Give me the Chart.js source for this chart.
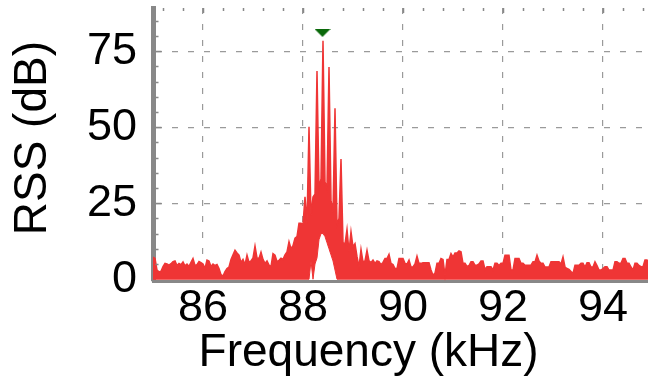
<!DOCTYPE html>
<html>
<head>
<meta charset="utf-8">
<script src="https://cdn.jsdelivr.net/npm/chart.js@4/dist/chart.umd.min.js"></script>
<style>
  html, body { margin: 0; padding: 0; background: #fff; }
  #chart-rss { display: block; }
</style>
</head>
<body>
<canvas id="chart-rss" width="648" height="385"></canvas>
<script>
//
// Data
//

var freqStart = 85.0;  // kHz, first bin
var freqStep = 0.04;   // kHz between bins

// top edge of the RSS trace per bin (dB), one row per kHz
var rssHigh = [
  7.3, 6.8, 3.0, 2.4, 2.6, 4.1, 5.2, 5.0, 4.6, 5.1, 5.8, 6.0, 4.5, 5.2, 4.8, 5.7, 4.4, 5.0, 4.2, 5.5, 6.8, 4.5, 4.8, 5.8, 5.4,
  5.0, 3.5, 6.3, 6.0, 4.2, 5.0, 4.5, 4.8, 3.5, 1.5, 1.0, 2.5, 3.5, 4.0, 6.5, 8.0, 9.5, 8.6, 7.9, 5.5, 6.5, 4.8, 7.9, 5.5, 6.0,
  7.0, 10.9, 7.0, 6.8, 8.9, 6.5, 5.2, 6.0, 4.6, 4.1, 8.4, 7.9, 5.8, 6.2, 6.9, 6.5, 8.0, 9.0, 12.3, 10.0, 11.0, 13.5, 14.0, 18.4, 18.4,
  18.0, 27.1, 18.4, 50.1, 21.0, 27.0, 28.0, 68.5, 30.0, 33.0, 78.4, 32.0, 30.0, 69.8, 26.0, 22.0, 56.2, 18.0, 20.0, 39.5, 12.0, 11.6, 16.4, 9.0, 15.6,
  10.6, 11.7, 7.5, 4.0, 9.8, 5.7, 6.0, 9.5, 6.0, 5.5, 6.3, 5.2, 6.0, 5.8, 4.8, 5.5, 6.8, 6.8, 8.2, 5.2, 4.8, 3.5, 3.5, 6.8, 6.8,
  6.8, 5.2, 5.0, 6.3, 4.0, 4.0, 5.0, 7.6, 5.2, 5.2, 5.4, 5.4, 5.4, 5.4, 3.0, 1.3, 2.0, 5.2, 5.2, 6.8, 6.5, 1.3, 6.5, 6.5, 8.4,
  7.3, 8.6, 8.6, 9.3, 9.0, 5.2, 5.2, 4.2, 4.5, 5.7, 5.7, 4.6, 4.6, 5.0, 6.0, 6.0, 3.2, 4.1, 4.1, 4.1, 3.0, 5.2, 5.2, 4.5, 5.2,
  5.2, 7.9, 7.9, 7.9, 3.0, 3.0, 6.8, 6.8, 6.8, 5.2, 5.2, 4.6, 4.6, 4.6, 4.6, 5.7, 5.7, 7.9, 6.0, 5.2, 5.2, 4.0, 4.0, 4.0, 5.7,
  5.7, 5.7, 5.7, 5.7, 5.0, 7.3, 4.0, 3.5, 3.2, 2.5, 1.9, 4.6, 4.6, 4.6, 5.2, 5.2, 4.0, 5.4, 5.4, 4.0, 4.0, 5.7, 4.5, 3.0, 3.0,
  3.5, 4.1, 4.1, 3.0, 3.0, 3.0, 5.7, 5.7, 5.2, 5.2, 6.8, 6.8, 5.2, 5.2, 4.0, 3.0, 5.2, 5.2, 4.5, 4.1, 4.1, 6.3, 6.3, 5.0, 4.5
];

// bottom edge of the trace per bin (dB)
var rssLow = [
  0, 0, 0, 0, 0, 0, 0, 0, 0, 0, 0, 0, 0, 0, 0, 0, 0, 0, 0, 0, 0, 0, 0, 0, 0,
  0, 0, 0, 0, 0, 0, 0, 0, 0, 0, 0, 0, 0, 0, 0, 0, 0, 0, 0, 0, 0, 0, 0, 0, 0,
  0, 0, 0, 0, 0, 0, 0, 0, 0, 0, 0, 0, 0, 0, 0, 0, 0, 0, 0, 0, 0, 0, 0, 0, 0,
  0, 0, 0, 0, 6, 0, 5, 7, 13, 15, 15, 14, 12, 10, 8, 6, 3, 0, 0, 0, 0, 0, 0, 0, 0,
  0, 0, 0, 0, 0, 0, 0, 0, 0, 0, 0, 0, 0, 0, 0, 0, 0, 0, 0, 0, 0, 0, 0, 0, 0,
  0, 0, 0, 0, 0, 0, 0, 0, 0, 0, 0, 0, 0, 0, 0, 0, 0, 0, 0, 0, 0, 0, 0, 0, 0,
  0, 0, 0, 0, 0, 0, 0, 0, 0, 0, 0, 0, 0, 0, 0, 0, 0, 0, 0, 0, 0, 0, 0, 0, 0,
  0, 0, 0, 0, 0, 0, 0, 0, 0, 0, 0, 0, 0, 0, 0, 0, 0, 0, 0, 0, 0, 0, 0, 0, 0,
  0, 0, 0, 0, 0, 0, 0, 0, 0, 0, 0, 0, 0, 0, 0, 0, 0, 0, 0, 0, 0, 0, 0, 0, 0,
  0, 0, 0, 0, 0, 0, 0, 0, 0, 0, 0, 0, 0, 0, 0, 0, 0, 0, 0, 0, 0, 0, 0, 0, 0
];

// detected peak marker
var peakFreq = [88.39];
var peakRss = [81];

var xTicks = [86, 88, 90, 92, 94];
var yTicks = [0, 25, 50, 75];

//
// Helpers
//

function toPoints(values) {
  return values.map(function (v, i) {
    return { x: freqStart + i * freqStep, y: v };
  });
}

// flat down-pointing triangle for the peak
function peakMarker() {
  var c = document.createElement('canvas');
  c.width = 16;
  c.height = 8;
  var g = c.getContext('2d');
  g.fillStyle = '#0a690a';
  g.beginPath();
  g.moveTo(0, 0);
  g.lineTo(16, 0);
  g.lineTo(8, 8);
  g.closePath();
  g.fill();
  return c;
}

// small inward ticks on the top and left edges
var edgeTicks = {
  id: 'edgeTicks',
  afterDatasetsDraw: function (chart) {
    var ctx = chart.ctx;
    var area = chart.chartArea;
    var sx = chart.scales.x;
    var sy = chart.scales.y;
    ctx.save();
    ctx.strokeStyle = '#888';
    ctx.lineWidth = 1.5;
    ctx.beginPath();
    for (var k = 0; k < 25; k++) {
      var f = Math.round((85.2 + k * 0.4) * 10) / 10;
      var px = Math.round(sx.getPixelForValue(f)) + 0.5;
      var len = (Math.abs(f / 2 - Math.round(f / 2)) < 1e-6) ? 5 : 3;
      ctx.moveTo(px, area.top);
      ctx.lineTo(px, area.top + len);
    }
    for (var d = 5; d < 89; d += 5) {
      var py = Math.round(sy.getPixelForValue(d)) + 0.5;
      var l2 = (d % 25 === 0) ? 6 : 3;
      ctx.moveTo(area.left + 2.5, py);
      ctx.lineTo(area.left + 2.5 + l2, py);
    }
    ctx.stroke();
    ctx.restore();
  }
};

//
// Chart
//

var font = { family: '"Liberation Sans", Arial, sans-serif', size: 45 };
var titleFont = { family: '"Liberation Sans", Arial, sans-serif', size: 46 };

var rssChart = new Chart(document.getElementById('chart-rss'), {
  type: 'line',
  data: {
    datasets: [
      {
        label: 'peak',
        data: peakFreq.map(function (f, i) { return { x: f, y: peakRss[i] }; }),
        showLine: false,
        pointStyle: peakMarker(),
        pointRadius: 8
      },
      {
        label: 'RSS',
        data: toPoints(rssHigh),
        borderColor: '#ef3535',
        backgroundColor: '#ef3535',
        borderWidth: 1.5,
        pointRadius: 0,
        tension: 0,
        fill: '+1'
      },
      {
        label: 'RSS low',
        data: toPoints(rssLow),
        borderColor: '#ef3535',
        borderWidth: 1,
        pointRadius: 0,
        tension: 0,
        fill: false
      }
    ]
  },
  options: {
    responsive: false,
    animation: false,
    layout: { autoPadding: false, padding: { top: 8, left: 0, right: 0, bottom: 0 } },
    plugins: {
      legend: { display: false },
      tooltip: { enabled: false }
    },
    scales: {
      x: {
        type: 'linear',
        min: 85.0,
        max: 94.9,
        afterBuildTicks: function (scale) {
          scale.ticks = xTicks.map(function (v) { return { value: v }; });
        },
        afterFit: function (scale) {
          scale.height = 104;
          scale.paddingLeft = 0;
          scale.paddingRight = 0;
        },
        grid: { color: '#9a9a9a', lineWidth: 1.2, drawTicks: false },
        border: { color: '#888', width: 3, dash: [6, 10] },
        ticks: { color: '#000', font: font, padding: 1, maxRotation: 0 },
        title: {
          display: true,
          // trailing spaces keep the title left of the plot centre, as in the figure
          text: 'Frequency (kHz)     ',
          color: '#000',
          font: titleFont,
          padding: { top: 0, bottom: 4 }
        }
      },
      y: {
        min: -0.6,
        max: 89.2,
        afterBuildTicks: function (scale) {
          scale.ticks = yTicks.map(function (v) { return { value: v }; });
        },
        afterFit: function (scale) {
          scale.width = 153;
          scale.paddingTop = 0;
          scale.paddingBottom = 0;
        },
        grid: {
          color: function (c) { return c.tick && c.tick.value === 0 ? 'rgba(0,0,0,0)' : '#9a9a9a'; },
          lineWidth: 1.2,
          drawTicks: false
        },
        border: { color: '#888', width: 5, dash: [6, 10] },
        ticks: { color: '#000', font: font, padding: 16 },
        title: {
          display: true,
          text: ' RSS (dB)',
          color: '#000',
          font: titleFont,
          padding: { top: 6, bottom: 0 }
        }
      }
    }
  },
  plugins: [edgeTicks]
});
</script>
</body>
</html>
